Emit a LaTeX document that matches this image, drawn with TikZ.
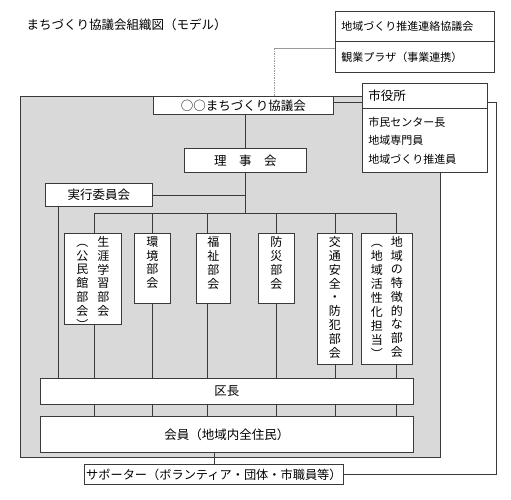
\documentclass[tikz,border=0pt]{standalone}
\usepackage{fontspec}
\setmainfont{Noto Sans CJK JP}
\usetikzlibrary{positioning}

\definecolor{panelgray}{HTML}{D9D9D9}
\definecolor{linegray}{HTML}{3A3A3A}
\definecolor{linkgray}{HTML}{9A9A9A}
\newcommand{\tate}[1]{\begin{tabular}[t]{@{}c@{}}#1\end{tabular}}
\newcommand{\tatecell}[3]{\parbox[t][#2][t]{#1}{\centering\vspace*{3pt}#3}}

\begin{document}
\begin{tikzpicture}[x=1pt, y=-1pt,
    box/.style={draw=linegray, line width=0.8pt, fill=white, inner sep=0pt, anchor=north west,
                font=\fontsize{12.5}{15}\selectfont},
    small/.style={font=\fontsize{11}{18.5}\selectfont},
    leftbox/.style={box, inner xsep=6pt, align=left},
    tatebox/.style={box, font=\fontsize{12}{13}\selectfont},
    wire/.style={draw=linegray, line width=0.8pt},
    link/.style={draw=linkgray, line width=0.7pt}]
  \useasboundingbox (0,0) rectangle (511,500);
  \node[anchor=west, font=\fontsize{12.5}{15}\selectfont] (title) at (23,25) {まちづくり協議会組織図（モデル）};
  \node[draw=linegray, line width=0.8pt, fill=panelgray, anchor=north west,
        minimum width=420pt, minimum height=361pt] (area) at (20,96) {};
  % outside partners
  \node[leftbox, small, minimum width=159pt, minimum height=30pt, text width=147pt] (renraku) at (335,11) {地域づくり推進連絡協議会};
  \node[leftbox, small, minimum width=159pt, minimum height=31pt, text width=147pt] (plaza) at (335,41) {観業プラザ（事業連携）};
  % main body
  \node[box, minimum width=180pt, minimum height=18pt] (kyogikai) at (153,96) {○○まちづくり協議会};
  \node[box, minimum width=122pt, minimum height=24pt] (riji) at (184,148) {理　事　会};
  \node[box, minimum width=107pt, minimum height=23pt] (jikko) at (45,183) {実行委員会};
  \node[tatebox] (shogai) at (64,233) {\tatecell{57pt}{91pt}{\tate{︵\\公\\民\\館\\部\\会\\︶}\hspace{9pt}\tate{生\\涯\\学\\習\\部\\会}}};
  \node[tatebox] (kankyo) at (134,233) {\tatecell{36pt}{70pt}{\tate{環\\境\\部\\会}}};
  \node[tatebox] (fukushi) at (196,233) {\tatecell{34pt}{70pt}{\tate{福\\祉\\部\\会}}};
  \node[tatebox] (bosai) at (258,233) {\tatecell{36pt}{70pt}{\tate{防\\災\\部\\会}}};
  \node[tatebox] (kotsu) at (317,233) {\tatecell{35pt}{131pt}{\tate{交\\通\\安\\全\\・\\防\\犯\\部\\会}}};
  \node[tatebox] (chiiki) at (361,233) {\tatecell{51pt}{131pt}{\tate{︵\\地\\域\\活\\性\\化\\担\\当\\︶}\hspace{8pt}\tate{地\\域\\の\\特\\徴\\的\\な\\部\\会}}};
  \node[box, minimum width=373pt, minimum height=26pt] (kucho) at (40,378) {区長};
  \node[box, minimum width=373pt, minimum height=36pt] (kaiin) at (40,416) {会員（地域内全住民）};
  \node[box, font=\fontsize{12.2}{15}\selectfont, minimum width=259pt, minimum height=20pt] (supporter) at (84,464) {サポーター（ボランティア・団体・市職員等）};

  % connectors
  \coordinate (lk) at (274,48);
  \draw[link, densely dotted] (kyogikai.north -| lk) -- (lk);
  \draw[link] (lk) -- (plaza.west |- lk);
  \coordinate (rloop) at (496,102);
  \draw[wire] (kyogikai.east |- rloop) -- (rloop) -- (rloop |- supporter.east) -- (supporter.east);
  \draw[wire] (riji.north) -- (riji.north |- kyogikai.south);
  \coordinate (busL) at (94,213);
  \coordinate (busR) at (396,213);
  \draw[wire] (busL) -- (busR);
  \draw[wire] (riji.south) -- (riji.south |- busL);
  \draw[wire] (jikko.east) -- (jikko.east -| riji.south);
  \coordinate (jx) at (58,213);
  \draw[wire] (jikko.south -| jx) -- (kucho.north -| jx);
  \foreach \n/\x in {shogai/94, kankyo/152, fukushi/207, bosai/276, kotsu/335, chiiki/396} {
    \coordinate (bus-\n) at (\x,213);
    \draw[wire] (bus-\n) -- (\n.north -| bus-\n);
    \draw[wire] (\n.south -| bus-\n) -- (kucho.north -| bus-\n);
    \draw[wire] (kucho.south -| bus-\n) -- (kaiin.north -| bus-\n);
  }
  \draw[wire] (kaiin.south -| supporter.north) -- (supporter.north);

  % city office
  \node[leftbox, minimum width=125pt, minimum height=25pt, text width=113pt] (shiyakusho) at (362,83) {市役所};
  \node[leftbox, small, minimum width=125pt, minimum height=64pt, text width=113pt] (staff) at (362,108) {市民センター長\\地域専門員\\地域づくり推進員};
\end{tikzpicture}
\end{document}
